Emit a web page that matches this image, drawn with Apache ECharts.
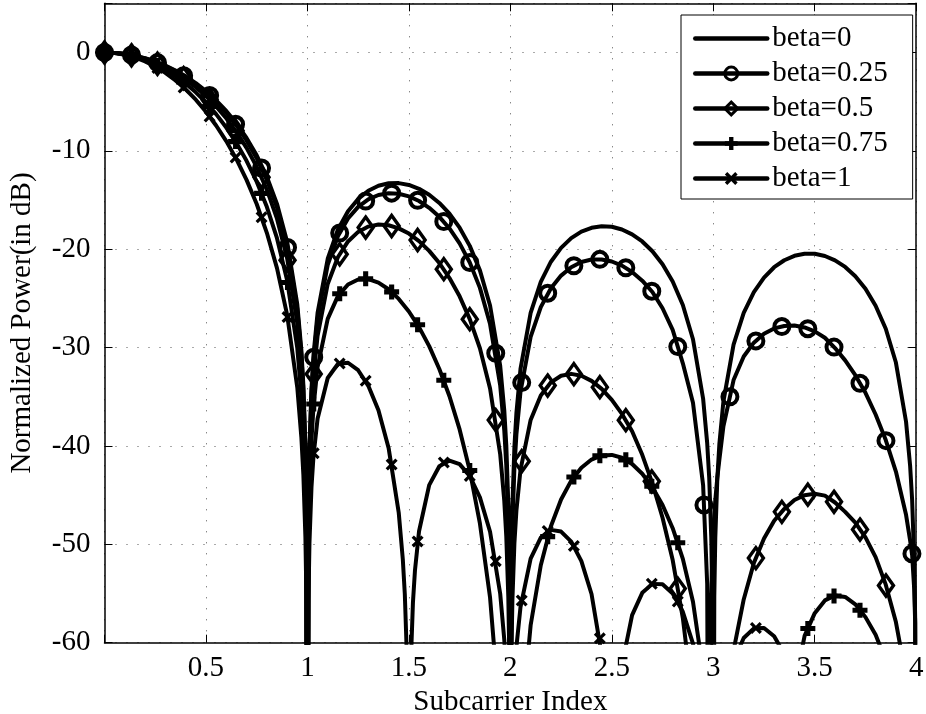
<!DOCTYPE html>
<html>
<head>
<meta charset="utf-8">
<script src="https://cdn.jsdelivr.net/npm/echarts@6/dist/echarts.min.js"></script>
<style>
html,body{margin:0;padding:0;background:#fff;}
#chart{width:926px;height:714px;}
</style>
</head>
<body>
<div id="chart"></div>
<script>
// ---- data ----
const X = [
  0,0.05,0.1,0.15,0.2,0.25,0.3,0.35,0.4,0.45,0.5,0.55,0.6,0.65,0.7,0.75,0.8,0.85,0.9,0.95,
  0.97,0.98,0.99,0.995,1,1.005,1.01,1.02,1.03,
  1.05,1.1,1.15,1.2,1.25,1.3,1.35,1.4,1.45,
  1.47,1.48,1.49,1.5,1.51,1.52,1.53,
  1.55,1.6,1.65,1.7,1.75,1.8,1.85,1.9,1.95,
  1.97,1.98,1.99,1.995,2,2.005,2.01,2.02,2.03,
  2.05,2.1,2.15,2.2,2.25,2.3,2.35,2.4,2.45,2.5,2.55,2.6,2.65,2.7,2.75,2.8,2.85,2.9,2.95,
  2.97,2.98,2.99,2.995,3,3.005,3.01,3.02,3.03,
  3.05,3.1,3.15,3.2,3.25,3.3,3.35,3.4,3.45,3.5,3.55,3.6,3.65,3.7,3.75,3.8,3.85,3.9,3.95,
  3.97,3.98,3.99,3.995,4
];

const BETA0 = [
  0,-0.04,-0.14,-0.32,-0.58,-0.91,-1.33,-1.83,-2.42,-3.12,-3.92,-4.86,-5.94,-7.2,-8.69,-10.45,-12.62,-15.39,-19.23,-25.61,
  -30.21,-33.81,-39.91,-45.98,-100,-46.06,-40.09,-34.16,-30.73,
  -26.48,-20.97,-18.02,-16.14,-14.89,-14.06,-13.55,-13.3,-13.28,
  null,null,null,-13.47,null,null,null,
  -13.86,-14.46,-15.3,-16.39,-17.81,-19.66,-22.15,-25.72,-31.86,
  -36.36,-39.92,-45.98,-52.02,-100,-52.06,-46.07,-40.09,-36.62,
  -32.17,-26.47,-23.32,-21.27,-19.86,-18.87,-18.21,-17.82,-17.66,-17.72,-18,-18.49,-19.21,-20.21,-21.53,-23.28,-25.67,-29.15,-35.2,
  -39.7,-43.25,-49.3,-55.3,-100,-55.3,-49.3,-43.3,-39.8,
  -35.47,-29.69,-26.48,-24.36,-22.88,-21.83,-21.12,-20.67,-20.46,-20.46,-20.69,-21.13,-21.8,-22.75,-24.02,-25.74,-28.08,-31.52,-37.54,
  -42,-45.5,-51.6,-57.6,-100
];

const BETA025 = [
  0,-0.04,-0.15,-0.34,-0.6,-0.94,-1.37,-1.89,-2.5,-3.22,-4.05,-5.01,-6.13,-7.42,-8.94,-10.74,-12.95,-15.76,-19.64,-26.07,
  -30.7,-34.31,-40.42,-46.49,-100,-46.57,-40.61,-34.69,-31.27,
  -27.05,-21.59,-18.69,-16.88,-15.69,-14.93,-14.49,-14.31,-14.36,
  null,null,null,-14.63,null,null,null,
  -15.1,-15.79,-16.71,-17.89,-19.41,-21.35,-23.93,-27.61,-33.85,
  -38.4,-41.98,-48.06,-54.11,-100,-54.16,-48.18,-42.22,-38.78,
  -34.5,-28.91,-25.89,-23.97,-22.68,-21.83,-21.3,-21.05,-21.04,-21.25,-21.67,-22.31,-23.2,-24.35,-26,-28.2,-31.6,-35.6,-44,
  -54,-100,-55,-51.5,-48.5,-47,-45.5,-43.2,-41.4,
  -38,-33.3,-30.9,-29.5,-28.6,-28.05,-27.8,-27.75,-27.95,-28.35,-29,-30.05,-31.3,-32.8,-34.6,-36.8,-39.4,-42.6,-47,
  -49.6,-51.1,-54.5,-58,-100
];

const BETA05 = [
  0,-0.04,-0.16,-0.37,-0.66,-1.04,-1.51,-2.08,-2.75,-3.53,-4.43,-5.48,-6.68,-8.07,-9.7,-11.62,-13.95,-16.89,-20.92,-27.5,
  -32.18,-35.82,-41.96,-48.05,-100,-48.18,-42.23,-36.35,-32.96,
  -28.8,-23.53,-20.82,-19.21,-18.24,-17.7,-17.49,-17.56,-17.88,
  null,null,null,-18.41,null,null,null,
  -19.18,-20.17,-21.4,-22.93,-24.79,-27.11,-30.07,-34.16,-40.84,
  -45.56,-49.23,-55.41,-61.5,-100,-61.66,-55.73,-49.88,-46.53,
  -42.43,-37.35,-34.87,-33.53,-32.86,-32.67,-32.86,-33.38,-34.2,-35.32,-36.74,-38.5,-40.9,-43.8,-47.3,-51.6,-57.5,-66,-78,
  null,null,null,null,-100,null,null,null,null,
  -80,-60.8,-55.6,-51.9,-49.4,-47.6,-46.4,-45.5,-45,-44.85,-45.05,-45.75,-46.7,-47.8,-49.3,-51.3,-54.1,-57.9,-63.5,
  null,null,null,null,-100
];

const BETA075 = [
  0,-0.05,-0.19,-0.43,-0.76,-1.2,-1.74,-2.39,-3.16,-4.05,-5.08,-6.27,-7.63,-9.19,-11.01,-13.14,-15.69,-18.88,-23.17,-30.04,
  -34.84,-38.55,-44.75,-50.87,-100,-51.06,-45.15,-39.33,-36.01,
  -31.99,-27.08,-24.77,-23.58,-23.07,-23.04,-23.39,-24.07,-25.05,
  null,null,null,-26.33,null,null,null,
  -27.92,-29.85,-32.17,-34.95,-38.32,-42.5,-47.88,-55.41,-68.02,
  null,null,null,null,-100,null,null,null,null,
  -69.43,-58.23,-52.13,-48.17,-45.44,-43.52,-42.21,-41.38,-40.96,-40.91,-41.2,-41.84,-42.82,-44.19,-46,-48.36,-51.48,-55.84,-62.93,
  null,null,null,null,-100,null,null,null,null,
  -65.9,-61.9,-60.91,-61.73,-64.53,-71.69,-77,-64.5,-59.3,-57,-55.7,-55.2,-55.35,-56.1,-57.4,-59.2,-61.8,-65.5,-72,
  null,null,null,null,-100
];

const BETA1 = [
  0,-0.06,-0.22,-0.51,-0.91,-1.42,-2.07,-2.84,-3.75,-4.8,-6.02,-7.42,-9.01,-10.84,-12.95,-15.4,-18.33,-21.92,-26.67,-34.05,
  -39.09,-42.91,-49.23,-55.41,-100,-55.72,-49.87,-44.18,-41,
  -37.24,-33.09,-31.67,-31.54,-32.3,-33.89,-36.38,-40.2,-46.79,
  -51.5,-55.1,-61.3,-100,-61.75,-55.9,-52.65,
  -48.67,-43.98,-42.06,-41.48,-41.85,-43.06,-45.22,-48.72,-55.02,
  -59.66,-63.3,null,null,-100,null,null,-63.79,-60.39,
  -56.38,-51.45,-49.31,-48.53,-48.7,-49.73,-51.71,-55.05,-61.19,-100,-62.26,-57.19,-54.93,-54.02,-54.07,-54.99,-56.86,-60.1,-66.14,
  null,null,null,null,-100,null,null,null,null,
  -67.03,-61.87,-59.52,-58.54,-58.51,-59.35,-61.15,-64.32,-70.29,-100,-71.05,-65.83,-63.42,-62.37,-62.29,-63.08,-64.82,-67.94,-73.86,
  null,null,null,null,-100
];

// marker positions (every marker sample) and the values at them
const MARK_X = [0,0.133,0.261,0.39,0.518,0.646,0.774,0.902,1.031,1.159,1.287,1.415,1.543,1.672,1.8,1.928,
                2.056,2.184,2.313,2.441,2.569,2.697,2.825,2.954,3.082,3.21,3.338,3.466,3.595,3.723,3.851,3.979];
const MARK025 = [0,-0.26,-1.03,-2.37,-4.38,-7.3,-11.75,-19.83,-30.99,-18.35,-15.11,-14.3,-15.03,-17.19,-21.35,-30.57,
                 -33.56,-24.47,-21.68,-21.03,-21.89,-24.27,-29.9,-46,-35,-29.32,-27.86,-28.08,-29.95,-33.63,-39.46,-50.95];
const MARK05 = [0,-0.29,-1.15,-2.61,-4.8,-7.95,-12.69,-21.11,-32.69,-20.51,-17.8,-17.64,-19.06,-22.03,-27.11,-37.37,
                -41.55,-33.86,-32.7,-34.02,-37.38,-43.6,-54.5,null,null,-51.4,-46.7,-44.95,-45.68,-48.5,-54.18,null];
const MARK075 = [0,-0.33,-1.31,-3,-5.49,-9.06,-14.32,-23.38,-35.74,-24.53,-23.01,-24.34,-27.68,-33.32,-42.5,null,
                 null,-49.22,-43.16,-41,-41.41,-44.09,-49.84,null,null,null,null,-58.56,-55.25,-56.7,null,null];
const MARK1 = [0,-0.4,-1.57,-3.56,-6.5,-10.67,-16.75,-26.9,-40.74,-31.61,-33.38,-41.89,-49.7,-41.69,-43.06,-51.71,
               -55.71,-48.64,-50.16,-59.56,null,-54,-55.82,null,null,-58.5,null,null,null,null,null,null];

const NAMES = ['beta=0','beta=0.25','beta=0.5','beta=0.75','beta=1'];
const CURVES = [BETA0, BETA025, BETA05, BETA075, BETA1];
const MARKS = [null, MARK025, MARK05, MARK075, MARK1];

const X_MIN = 0, X_MAX = 4, X_STEP = 0.5;
const Y_MIN = -60, Y_MAX = 5, Y_STEP = 10;

// ---- styling ----
const FONT = 'Liberation Serif';
const PLUS = 'path://M3.3,0H6.7V3.3H10V6.7H6.7V10H3.3V6.7H0V3.3H3.3Z';
const CROSS = 'path://M1.9,0L5,3.1L8.1,0L10,1.9L6.9,5L10,8.1L8.1,10L5,6.9L1.9,10L0,8.1L3.1,5L0,1.9Z';
const CLEAR = 'rgba(0,0,0,0)';
const STYLES = [
  {sym:'none',    size:10,      item:{color:CLEAR, borderColor:CLEAR, borderWidth:0, opacity:1}},
  {sym:'circle',  size:15,      item:{color:CLEAR, borderColor:'#000', borderWidth:4, opacity:1}},
  {sym:'diamond', size:[15,21], item:{color:CLEAR, borderColor:'#000', borderWidth:3.5, opacity:1}},
  {sym:PLUS,      size:15,      item:{color:'#000', borderColor:CLEAR, borderWidth:0, opacity:1}},
  {sym:CROSS,     size:12,      item:{color:'#000', borderColor:CLEAR, borderWidth:0, opacity:1}}
];

function pairs(xs, ys) {
  const out = [];
  for (let i = 0; i < xs.length; i++) if (ys[i] !== null) out.push([xs[i], ys[i]]);
  return out;
}

const series = [];
NAMES.forEach((name, i) => {
  const st = STYLES[i];
  series.push({
    type: 'line', name: name, data: pairs(X, CURVES[i]),
    showSymbol: false, symbol: st.sym, symbolSize: st.size,
    itemStyle: Object.assign({}, st.item),
    lineStyle: {color: '#000', width: 4, cap: 'round', join: 'round', opacity: 1},
    clip: true, silent: true, animation: false, z: 3 + i
  });
  if (MARKS[i]) {
    series.push({
      type: 'scatter', name: name, data: pairs(MARK_X, MARKS[i]),
      symbol: st.sym, symbolSize: st.size, itemStyle: Object.assign({}, st.item),
      emphasis: {disabled: true},
      clip: true, silent: true, animation: false, z: 3 + i
    });
  }
});

const axisText = {color: '#000', fontFamily: FONT, fontSize: 29};
const axisLine = {show: true, onZero: false, lineStyle: {color: '#000', width: 1.5}};
const axisTick = {show: true, inside: true, length: 8, lineStyle: {color: '#000', width: 1}};
const gridLine = {show: true, lineStyle: {color: '#555', width: 1, type: [1, 10]}};

const option = {
  backgroundColor: '#fff',
  animation: false,
  grid: {left: 104.5, right: 9.8, top: 3.3, bottom: 71.3, containLabel: false, outerBoundsMode: 'none'},
  xAxis: [
    {type: 'value', min: X_MIN, max: X_MAX, interval: X_STEP, position: 'bottom',
     axisLine: axisLine, axisTick: axisTick, splitLine: gridLine,
     axisLabel: Object.assign({margin: 11, formatter: v => (v === 0 ? '' : String(v))}, axisText),
     name: 'Subcarrier Index', nameLocation: 'middle', nameGap: 44, nameTextStyle: axisText},
    {type: 'value', min: X_MIN, max: X_MAX, interval: X_STEP, position: 'top',
     axisLine: axisLine, axisTick: axisTick, splitLine: {show: false}, axisLabel: {show: false}}
  ],
  yAxis: [
    {type: 'value', min: Y_MIN, max: Y_MAX, interval: Y_STEP, position: 'left',
     axisLine: axisLine, axisTick: axisTick, splitLine: gridLine,
     axisLabel: Object.assign({margin: 14, formatter: v => (v === 5 ? '' : String(v))}, axisText),
     name: 'Normalized Power(in dB)', nameLocation: 'middle', nameGap: 68, nameTextStyle: axisText},
    {type: 'value', min: Y_MIN, max: Y_MAX, interval: Y_STEP, position: 'right',
     axisLine: axisLine, axisTick: axisTick, splitLine: {show: false}, axisLabel: {show: false}}
  ],
  legend: {
    data: NAMES, orient: 'vertical', left: 681, top: 15,
    itemWidth: 72, itemHeight: 16, itemGap: 6,
    padding: [9, 25, 6, 12],
    backgroundColor: '#fff', borderColor: '#000', borderWidth: 1, borderRadius: 0,
    lineStyle: {width: 4.5},
    itemStyle: {borderWidth: 3},
    textStyle: {color: '#000', fontFamily: FONT, fontSize: 29, lineHeight: 29},
    selectedMode: false
  },
  series: series
};

const chart = echarts.init(document.getElementById('chart'), null, {renderer: 'canvas'});
chart.setOption(option);
</script>
</body>
</html>
